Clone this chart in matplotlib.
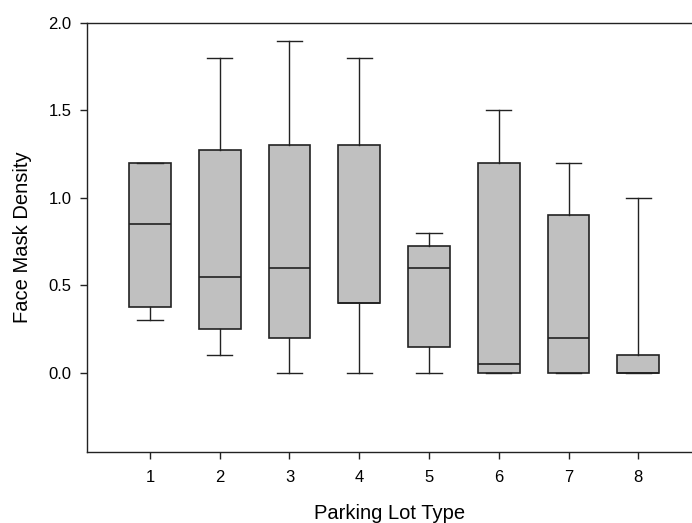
import matplotlib
matplotlib.use("Agg")
import matplotlib.pyplot as plt

plt.rcParams['font.family'] = ['Liberation Sans', 'DejaVu Sans']

# box statistics
lot_types = [1, 2, 3, 4, 5, 6, 7, 8]
whis_lo = [0.30, 0.10, 0.00, 0.00, 0.00, 0.00, 0.00, 0.00]
q1 = [0.375, 0.25, 0.20, 0.40, 0.15, 0.00, 0.00, 0.00]
median = [0.85, 0.55, 0.60, 0.40, 0.60, 0.05, 0.20, 0.00]
q3 = [1.20, 1.275, 1.30, 1.30, 0.725, 1.20, 0.90, 0.10]
whis_hi = [1.20, 1.80, 1.90, 1.80, 0.80, 1.50, 1.20, 1.00]

stats = []
for i in range(len(lot_types)):
    stats.append(dict(whislo=whis_lo[i], q1=q1[i], med=median[i], q3=q3[i],
                      whishi=whis_hi[i], fliers=[], label=str(lot_types[i])))

edge = '#222222'
fig = plt.figure(figsize=(6.92, 5.23), dpi=100)
ax = fig.add_axes([0.1257, 0.1358, 0.8743, 0.8202])

ax.bxp(stats, positions=lot_types, widths=0.6, capwidths=0.36,
       patch_artist=True, showfliers=False,
       boxprops=dict(facecolor='#c0c0c0', edgecolor=edge, linewidth=1.2),
       medianprops=dict(color=edge, linewidth=1.2),
       whiskerprops=dict(color=edge, linewidth=1.0),
       capprops=dict(color=edge, linewidth=1.0))

ax.set_xlim(0.097, 8.77)
ax.set_ylim(-0.452, 2.0)
ax.set_yticks([0.0, 0.5, 1.0, 1.5, 2.0])
ax.set_yticklabels(['0.0', '0.5', '1.0', '1.5', '2.0'])
ax.set_xticks(lot_types)
ax.set_xticklabels([str(t) for t in lot_types])

ax.spines['right'].set_visible(False)
for s in ['left', 'top', 'bottom']:
    ax.spines[s].set_color(edge)
    ax.spines[s].set_linewidth(1.0)
ax.tick_params(axis='both', direction='out', length=5, width=1.0,
               color=edge, labelsize=12, pad=6)
ax.tick_params(axis='x', pad=8)

ax.set_xlabel('Parking Lot Type', fontsize=14.5, labelpad=14)
ax.set_ylabel('Face Mask Density', fontsize=14.5, labelpad=12)

fig.savefig('out.png', dpi=100)
